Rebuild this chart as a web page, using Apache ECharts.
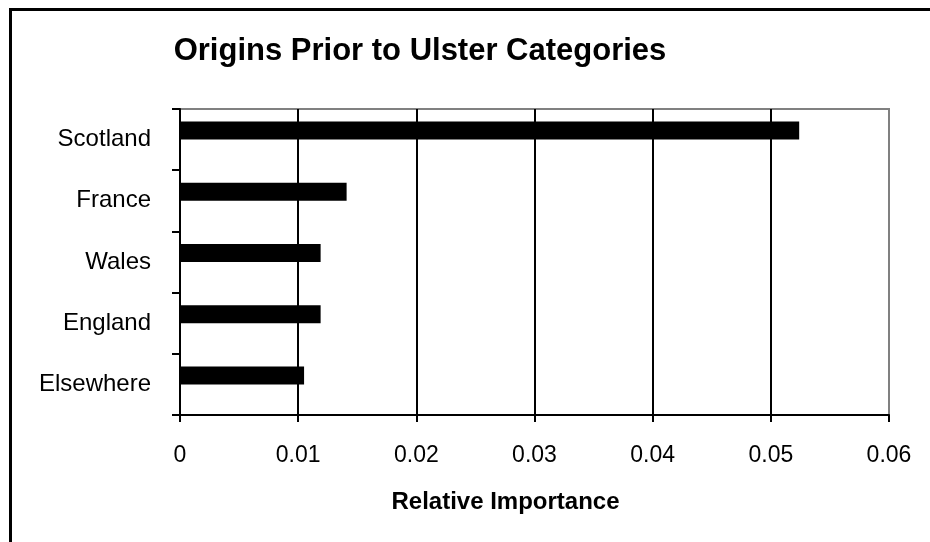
<!DOCTYPE html>
<html>
<head>
<meta charset="utf-8">
<script src="https://cdn.jsdelivr.net/npm/echarts@6/dist/echarts.min.js"></script>
<style>
  html, body { margin: 0; padding: 0; background: #fff; }
  #chart { width: 930px; height: 542px; }
</style>
</head>
<body>
<div id="chart"></div>
<script>
// categories top to bottom
const categories = ["Scotland", "France", "Wales", "England", "Elsewhere"];
const importance = [0.0524, 0.0141, 0.0119, 0.0119, 0.0105];
// empty second series (keeps bars shifted up like the original)
const emptySeries = [0, 0, 0, 0, 0];
const xTicks = { min: 0, max: 0.06, step: 0.01 };

const font = "Liberation Sans, Arial, sans-serif";
const chart = echarts.init(document.getElementById("chart"), null, { renderer: "canvas" });

chart.setOption({
  backgroundColor: "#fff",
  animation: false,
  title: {
    text: "Origins Prior to Ulster Categories",
    left: 415,
    top: 31,
    textAlign: "center",
    textStyle: { fontFamily: font, fontSize: 31, fontWeight: "bold", color: "#000" },
  },
  graphic: [
    {
      type: "rect",
      shape: { x: 10.5, y: 9.5, width: 1000, height: 600 },
      style: { fill: "none", stroke: "#000", lineWidth: 3 },
      silent: true,
    },
  ],
  grid: {
    left: 180,
    right: 41,
    top: 109,
    bottom: 127,
    show: true,
    borderColor: "#808080",
    borderWidth: 2,
    backgroundColor: "transparent",
  },
  xAxis: {
    type: "value",
    min: xTicks.min,
    max: xTicks.max,
    interval: xTicks.step,
    name: "Relative Importance",
    nameLocation: "middle",
    nameGap: 75,
    nameTextStyle: {
      fontFamily: font, fontSize: 24, fontWeight: "bold", color: "#000",
      padding: [0, 58, 0, 0],
    },
    axisLine: { show: true, lineStyle: { color: "#000", width: 2 } },
    axisTick: { show: true, length: 7, lineStyle: { color: "#000", width: 2 } },
    axisLabel: {
      fontFamily: font, fontSize: 23, color: "#000", margin: 29,
      formatter: (v) => String(+v.toFixed(2)),
    },
    splitLine: { show: true, showMaxLine: false, lineStyle: { color: "#000", width: 2 } },
  },
  yAxis: {
    type: "category",
    data: categories,
    inverse: true,
    axisLine: { show: true, lineStyle: { color: "#000", width: 2 } },
    axisTick: { show: true, length: 8, lineStyle: { color: "#000", width: 2 } },
    axisLabel: {
      fontFamily: font, fontSize: 24, color: "#000", margin: 29,
      padding: [4, 0, 0, 0],
    },
    splitLine: { show: false },
  },
  series: [
    {
      type: "bar",
      data: importance,
      barWidth: 18,
      barGap: "0%",
      itemStyle: { color: "#000" },
      silent: true,
    },
    {
      type: "bar",
      data: emptySeries,
      barWidth: 18,
      barGap: "0%",
      itemStyle: { color: "transparent" },
      silent: true,
    },
  ],
});
</script>
</body>
</html>
